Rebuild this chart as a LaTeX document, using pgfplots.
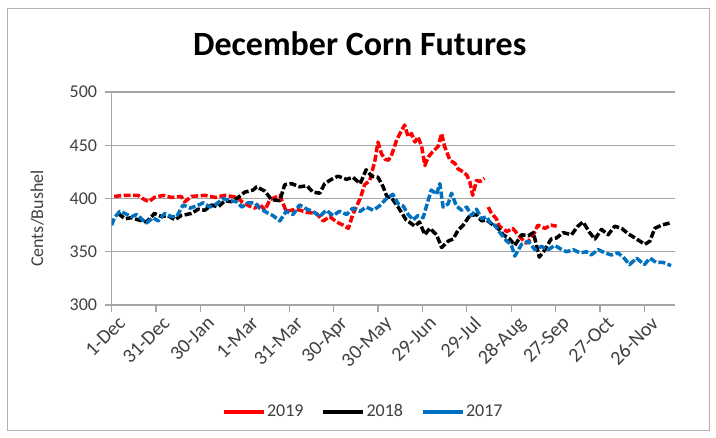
\documentclass[border=0pt]{standalone}
\usepackage{pgfplots}
\pgfplotsset{compat=1.18}
\usepackage{fontspec}
\setmainfont{Carlito}
\definecolor{xlblue}{RGB}{0,112,192}
\definecolor{xlgrid}{RGB}{166,166,166}
\definecolor{xltext}{RGB}{64,64,64}
\begin{document}
\begin{tikzpicture}
\begin{axis}[
  scale only axis, width=563.3pt, height=213pt,
  xmin=0, xmax=380.6, ymin=300, ymax=500,
  axis x line*=bottom, axis y line*=left,
  axis line style={xlgrid, line width=1.3pt, -},
  xtick={0,30,...,360},
  xticklabels={1-Dec,31-Dec,30-Jan,1-Mar,31-Mar,30-Apr,30-May,29-Jun,29-Jul,28-Aug,27-Sep,27-Oct,26-Nov},
  ytick={300,350,...,500},
  tick align=outside, major tick length=7pt,
  tick style={xlgrid, line width=1.3pt},
  ymajorgrids, major grid style={xlgrid, line width=1.3pt},
  /pgf/number format/assume math mode=true,
  ticklabel style={font=\fontsize{18}{20}\selectfont, text=xltext},
  xticklabel style={rotate=45, anchor=north east, inner sep=1pt, font=\fontsize{20}{22}\selectfont, yshift=-5pt, xshift=3pt},
  yticklabel style={xshift=-4pt},
  ylabel={Cents/Bushel},
  ylabel style={at={(rel axis cs:-0.1317,0.406)}, anchor=center, font=\fontsize{18}{20}\selectfont, text=xltext},
  title={December Corn Futures},
  title style={at={(rel axis cs:0.4408,1.199)}, anchor=center, font=\fontsize{34}{38}\selectfont\bfseries},
  unbounded coords=jump,
  legend columns=3,
  legend style={draw=none, at={(rel axis cs:0.446,-0.50)}, anchor=center,
    font=\fontsize{18}{20}\selectfont, text=xltext,
    /tikz/every even column/.append style={column sep=16pt},
    nodes={inner sep=1.5pt}},
  legend image code/.code={\draw[#1, solid, line width=4pt] (0pt,0pt) -- (40pt,0pt);},
  every axis plot/.append style={line width=3.5pt, line join=round, dash pattern=on 7pt off 2.5pt},
]
\addplot[red] coordinates {
(1.8,402)(9,403)(18,403)(21,400)(25,397)(29,401)(35,403)(40.5,401)(47,402)(49.5,397)
(54,402)(63,403)(70,401)(76.5,403)(85.5,401)(88,397)(93,393)(97,391)(100,395)(103.6,389)
(107,399)(113.7,403)(118,388)(125,390)(132,387)(138.5,386)(143,379)(147.5,383)(152,378)
(156.5,375)(160,372)(163,385)(168,400)(171,413)(174.5,417)(178,436)(180,453)(182.4,442)
(184.7,437)(187,436)(189,440)(192.6,455)(196,464)(198,469)(200.4,458)(202.7,461)(205,453)
(207,458)(209.5,449)(211.7,431)(214,439)(217,444)(220.7,449)(223,461)(225,449)(228.6,436)
(232,433)(234,428)(237.6,425)(240,422)(242,416)(244,403)(246.6,417)(249,416)(252,419)
(253,nan)
(254.5,392)(256.7,386)(260,381)(262,374)(267,369)(271,372)(276,364)(280,358)(284,363)
(288,375)(292.8,372)(297,375)(300.7,374)
};
\addlegendentry{2019}
\addplot[black] coordinates {
(4.5,386)(9,381)(13.5,382)(18,380)(23.6,378)(29,386)(33.8,383)(38,384)(42.8,380)(47,384)
(54,386)(58.5,390)(63,389)(67.6,394)(72,392)(76.5,398)(81,397)(85.5,401)(90,406)(95.7,408)
(98,411)(103.6,407)(108,399)(113.7,398)(117,413)(121.6,414)(127,411)(132,412)(136,406)
(140.7,405)(144,414)(148.6,418)(153,421)(158.8,418)(163,420)(168,414)(172,427)(175.7,421)
(180,420)(183.5,411)(186,402)(189,401)(193.6,392)(199,380)(205,374)(208,378)(211.7,366)
(215,372)(219.6,366)(223,354)(227.4,360)(230.8,362)(234,370)(237.6,375)(242,384)(246.6,385)
(250,379)(253.4,380)(257.8,375)(260,374)(264.6,366)(269,362)(272.5,356)(277,366)(281.5,365)
(285,368)(289,345)(292.8,352)(297,362)(300.7,363)(305,368)(310.8,366)(315,374)(318.6,378)
(323,368)(326.6,362)(331,371)(335.5,366)(340,374)(344.6,372)(349,367)(353.6,363)(360.3,357)
(363.7,360)(367,372)(371.6,375)(377,377)
};
\addlegendentry{2018}
\addplot[xlblue] coordinates {
(0,375)(2,382)(5.6,388)(9,386)(13.5,383)(17,385)(21,380)(23.6,377)(28,382)(31.5,379)
(36,386)(40.5,383)(44,383)(48.4,394)(53,391)(57.4,393)(62,396)(66.4,392)(71,395)(75.4,400)
(80,398)(84.5,397)(88,392)(92.3,396)(96.8,396)(100,391)(104.7,387)(109,384)(113.7,379)
(118,388)(122.7,385)(127,394)(132,390)(136,388)(140.7,383)(145,389)(149.7,384)(154,388)
(158.8,385)(163,391)(168,388)(172,392)(176.8,389)(181,393)(185.8,400)(188,402)(190,404)
(193.7,395)(197,393)(200.4,385)(203.8,380)(207,384)(210.5,382)(212.8,393)(216,408)
(219.6,404)(221.8,414)(224,392)(227.4,395)(229.7,405)(233,393)(236.5,389)(240,392)(243,384)
(246.6,390)(250,381)(253.4,383)(256.8,375)(259,375)(262.4,368)(267,360)(270,357)(272.5,346)
(277,357)(281.5,360)(286,352)(290.5,355)(295,352)(299.5,356)(303,353)(307.4,350)(312,352)
(316.4,349)(321,350)(324,347)(328.8,352)(333.3,349)(337.8,347)(342,349)(345.7,345)(350,338)
(354.7,344)(360,338)(363.7,344)(368,340)(372.7,340)(378,337)
};
\addlegendentry{2017}
\coordinate (fsw) at (rel axis cs:-0.184,-0.587);
\coordinate (fne) at (rel axis cs:1.062,1.394);
\coordinate (bsw) at (rel axis cs:-0.198,-0.620);
\coordinate (bne) at (rel axis cs:1.073,1.432);
\end{axis}
\draw[gray!60, line width=1pt] (fsw) rectangle (fne);
\path (bsw) rectangle (bne);
\end{tikzpicture}
\end{document}
